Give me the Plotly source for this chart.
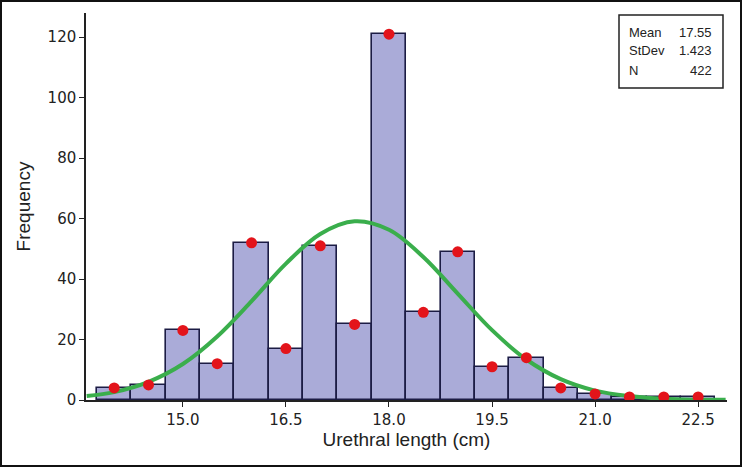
import plotly.graph_objects as go

# Histogram bins (centres, cm) and frequencies
bin_centers = [14.0, 14.5, 15.0, 15.5, 16.0, 16.5, 17.0, 17.5, 18.0, 18.5,
               19.0, 19.5, 20.0, 20.5, 21.0, 21.5, 22.0, 22.5]
frequencies = [4, 5, 23, 12, 52, 17, 51, 25, 121, 29,
               49, 11, 14, 4, 2, 1, 1, 1]

# Fitted normal curve
curve_x = [13.6, 14.0, 14.5, 15.0, 15.5, 16.0, 16.5, 17.0, 17.5, 18.0,
           18.5, 19.0, 19.5, 20.0, 20.5, 21.0, 21.5, 22.0, 22.5, 22.9]
curve_y = [1.3, 2.6, 6.0, 11.9, 21.0, 32.7, 45.1, 54.9, 59.1, 56.3,
           47.3, 35.2, 23.1, 13.4, 6.9, 3.1, 1.3, 0.4, 0.1, 0.05]

x_tickvals = [15.0, 16.5, 18.0, 19.5, 21.0, 22.5]
x_ticktext = ["15.0", "16.5", "18.0", "19.5", "21.0", "22.5"]
y_tickvals = [0, 20, 40, 60, 80, 100, 120]

stat_labels = ["Mean", "StDev", "N"]
stat_values = ["17.55", "1.423", "422"]

fig = go.Figure()
fig.add_trace(go.Bar(
    x=bin_centers, y=frequencies, width=0.5,
    marker=dict(color="#aaabd8", line=dict(color="#1c1c44", width=1.6)),
    showlegend=False,
))
fig.add_trace(go.Scatter(
    x=curve_x, y=curve_y, mode="lines", line=dict(color="#3aae4c", width=4, shape="spline"),
    showlegend=False,
))
fig.add_trace(go.Scatter(
    x=bin_centers, y=frequencies, mode="markers",
    marker=dict(color="#e3141b", size=11, symbol="circle"),
    showlegend=False,
))

fig.update_layout(
    width=742, height=467,
    margin=dict(l=86, r=15, t=13, b=67),
    plot_bgcolor="white", paper_bgcolor="white",
    bargap=0,
    xaxis=dict(
        range=[13.59, 22.92], tickvals=x_tickvals, ticktext=x_ticktext,
        showgrid=False, zeroline=False, showline=True, linecolor="#222", linewidth=1.5,
        ticks="outside", ticklen=5, tickcolor="#222", automargin=False,
        tickfont=dict(family="DejaVu Sans", size=15, color="#222"),
        title=dict(text="Urethral length (cm)", font=dict(family="Liberation Sans", size=19, color="#222"), standoff=3),
    ),
    yaxis=dict(
        range=[0, 128], tickvals=y_tickvals,
        showgrid=False, zeroline=False, showline=True, linecolor="#222", linewidth=1.5,
        ticks="outside", ticklen=5, tickcolor="#222", automargin=False,
        tickfont=dict(family="DejaVu Sans", size=15, color="#222"),
        title=dict(text="Frequency", font=dict(family="Liberation Sans", size=19, color="#222"), standoff=12),
    ),
)

# outer frame around the whole image
pw, ph = 742 - 86 - 15, 467 - 13 - 67
def px_x(p):
    return (p - 86) / pw
def px_y(p):
    return (467 - 67 - p) / ph

fig.add_shape(type="rect", xref="paper", yref="paper",
              x0=px_x(1), x1=px_x(741), y0=px_y(466), y1=px_y(1),
              line=dict(color="#111", width=2), layer="above")

# stats box
fig.add_shape(type="rect", xref="paper", yref="paper",
              x0=px_x(619), x1=px_x(723), y0=px_y(88), y1=px_y(15),
              line=dict(color="#222", width=1.5), fillcolor="white", layer="above")
for i, (lab, val) in enumerate(zip(stat_labels, stat_values)):
    yy = px_y(32 + i * 19)
    fig.add_annotation(xref="paper", yref="paper", x=px_x(627), y=yy, text=lab,
                       showarrow=False, xanchor="left", yanchor="middle",
                       font=dict(family="Liberation Sans", size=13, color="#222"))
    fig.add_annotation(xref="paper", yref="paper", x=px_x(714), y=yy, text=val,
                       showarrow=False, xanchor="right", yanchor="middle",
                       font=dict(family="Liberation Sans", size=13, color="#222"))

fig.write_html("out.html", config={"displayModeBar": False},
               post_script="document.body.style.margin='0';document.body.style.overflow='hidden';")
